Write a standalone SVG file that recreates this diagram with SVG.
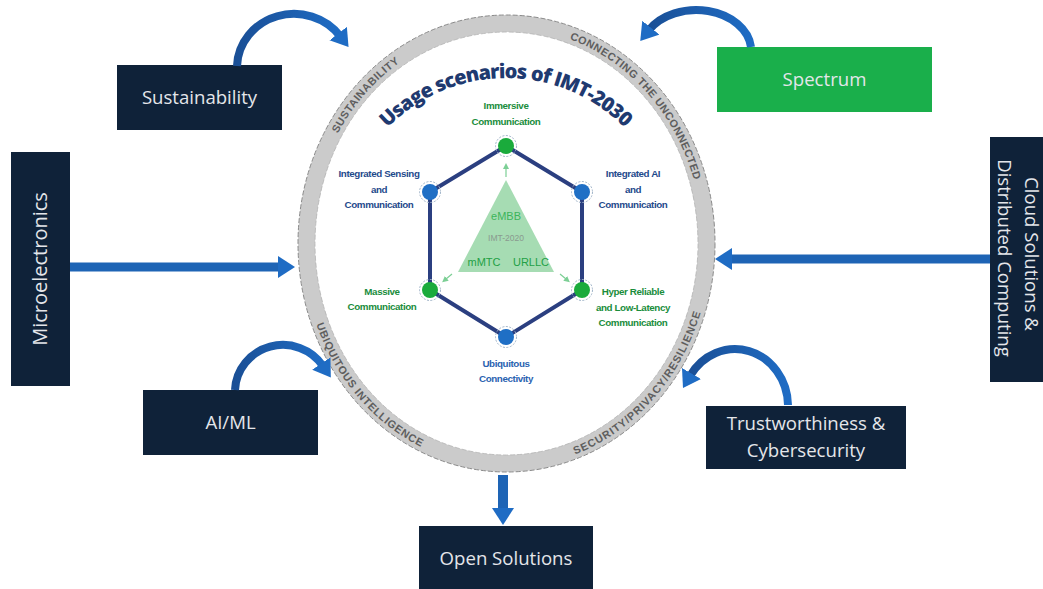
<svg xmlns="http://www.w3.org/2000/svg" width="1043" height="589" viewBox="0 0 1043 589">
<style>
.box{fill:#0f2239}
.bt{font-family:"Open Sans","Liberation Sans",sans-serif;font-size:18.6px;fill:#e4e6ea;text-anchor:middle}
.ring{font-family:"Liberation Sans",sans-serif;font-weight:bold;font-size:10.8px;fill:#5e5e5e}
.lbl{font-family:"Liberation Sans",sans-serif;font-weight:bold;font-size:9.8px;text-anchor:middle;letter-spacing:-0.4px}
.g{fill:#1a8d3c}
.b{fill:#1f4a8c}
.conn{stroke:#1e64b5;fill:none}
.curve{stroke:url(#cg);stroke-width:8;fill:none}
.hex{stroke:#2b3f80;stroke-width:4;fill:none;stroke-linejoin:round}
.ng{fill:#1aab3c}
.nb{fill:#1f6fc5}
.halo{fill:none;stroke:#9fb3c8;stroke-width:1;stroke-dasharray:2 1.5}
</style>
<defs>
<linearGradient id="cg" x1="0" y1="0" x2="1" y2="0">
<stop offset="0" stop-color="#1a4f96"/>
<stop offset="1" stop-color="#1f6cc4"/>
</linearGradient>
<marker id="ah" markerUnits="userSpaceOnUse" markerWidth="24" markerHeight="24" refX="3" refY="11" orient="auto">
<path d="M0,0 L17,11 L0,22 z" fill="#1f6cc4"/>
</marker>
<marker id="sa" markerUnits="userSpaceOnUse" markerWidth="8" markerHeight="8" refX="1" refY="3" orient="auto">
<path d="M0,0 L6,3 L0,6 z" fill="#7ccf95"/>
</marker>
<path id="topRing" d="M310.5,243.5 A196,216 0 0 1 702.5,243.5"/>
<path id="botRing" d="M302.5,243.5 A204,224 0 0 0 710.5,243.5"/>
<path id="title" d="M340,244 A166,166 0 0 1 672,244"/>
</defs>

<rect width="1043" height="589" fill="#ffffff"/>

<g id="ring">
<ellipse cx="506.5" cy="243.5" rx="200" ry="220" fill="#ffffff" stroke="#cbcbcb" stroke-width="17"/>
<ellipse cx="506.5" cy="243.5" rx="208.5" ry="228.5" fill="none" stroke="#8a8a8a" stroke-width="1" stroke-dasharray="5 2"/>
<ellipse cx="506.5" cy="243.5" rx="191.5" ry="211.5" fill="none" stroke="#b5b5b5" stroke-width="0.8" stroke-dasharray="5 2"/>
<text class="ring"><textPath href="#topRing" startOffset="25%" text-anchor="middle" textLength="95">SUSTAINABILITY</textPath></text>
<text class="ring"><textPath href="#topRing" startOffset="75%" text-anchor="middle" textLength="195">CONNECTING THE UNCONNECTED</textPath></text>
<text class="ring"><textPath href="#botRing" startOffset="24.5%" text-anchor="middle" textLength="165">UBIQUITOUS INTELLIGENCE</textPath></text>
<text class="ring"><textPath href="#botRing" startOffset="75%" text-anchor="middle" textLength="196">SECURITY/PRIVACY/RESILIENCE</textPath></text>
<text font-family="'Open Sans','Liberation Sans',sans-serif" font-weight="800" font-size="20" fill="#1f3a70"><textPath href="#title" startOffset="50%" text-anchor="middle" textLength="264">Usage scenarios of IMT-2030</textPath></text>
</g>

<g id="hexagon">
<path class="hex" d="M506,146 L430,192 L430,290 L506,337 L582,290 L582,192 Z"/>
</g>

<g id="imt2020">
<path d="M506,180 L458,272 L554,272 Z" fill="#a6dcb3"/>
<text x="506" y="220" font-family="'Liberation Sans',sans-serif" font-size="11" fill="#3cb45a" text-anchor="middle">eMBB</text>
<text x="506" y="241" font-family="'Liberation Sans',sans-serif" font-size="8.5" fill="#8a9a8f" text-anchor="middle">IMT-2020</text>
<text x="484" y="266" font-family="'Liberation Sans',sans-serif" font-size="11" fill="#22a045" text-anchor="middle">mMTC</text>
<text x="531" y="266" font-family="'Liberation Sans',sans-serif" font-size="11" fill="#22a045" text-anchor="middle">URLLC</text>
<path d="M506,177 L506,168" stroke="#7ccf95" stroke-width="1.2" marker-end="url(#sa)"/>
<path d="M452,274 L446,279" stroke="#7ccf95" stroke-width="1.2" marker-end="url(#sa)"/>
<path d="M560,274 L566,279" stroke="#7ccf95" stroke-width="1.2" marker-end="url(#sa)"/>
</g>

<g id="n-immersive">
<circle cx="506" cy="146" r="10.5" class="halo"/>
<circle cx="506" cy="146" r="8" class="ng"/>
<text class="lbl g" x="506" y="109">Immersive</text>
<text class="lbl g" x="506" y="125">Communication</text>
</g>
<g id="n-sensing">
<circle cx="430" cy="192" r="10.5" class="halo"/>
<circle cx="430" cy="192" r="8" class="nb"/>
<text class="lbl b" x="379" y="177">Integrated Sensing</text>
<text class="lbl b" x="379" y="193">and</text>
<text class="lbl b" x="379" y="208">Communication</text>
</g>
<g id="n-ai">
<circle cx="582" cy="192" r="10.5" class="halo"/>
<circle cx="582" cy="192" r="8" class="nb"/>
<text class="lbl b" x="633" y="177">Integrated AI</text>
<text class="lbl b" x="633" y="193">and</text>
<text class="lbl b" x="633" y="208">Communication</text>
</g>
<g id="n-massive">
<circle cx="430" cy="290" r="10.5" class="halo"/>
<circle cx="430" cy="290" r="8" class="ng"/>
<text class="lbl g" x="382" y="295">Massive</text>
<text class="lbl g" x="382" y="310">Communication</text>
</g>
<g id="n-hrllc">
<circle cx="582" cy="290" r="10.5" class="halo"/>
<circle cx="582" cy="290" r="8" class="ng"/>
<text class="lbl g" x="633" y="295">Hyper Reliable</text>
<text class="lbl g" x="633" y="311">and Low-Latency</text>
<text class="lbl g" x="633" y="326">Communication</text>
</g>
<g id="n-ubiq">
<circle cx="506" cy="337" r="10.5" class="halo"/>
<circle cx="506" cy="337" r="8" class="nb"/>
<text class="lbl" fill="#2a62b0" x="506" y="367">Ubiquitous</text>
<text class="lbl" fill="#2a62b0" x="506" y="382">Connectivity</text>
</g>

<g id="sustainability">
<rect class="box" x="117" y="65" width="165" height="65"/>
<text class="bt" x="199.5" y="104">Sustainability</text>
</g>
<g id="spectrum">
<rect x="717" y="47" width="215" height="65" fill="#1aaf4b"/>
<text class="bt" x="824.5" y="86">Spectrum</text>
</g>
<g id="microelectronics">
<rect class="box" x="11" y="152" width="59" height="234"/>
<text class="bt" style="font-size:20px" transform="translate(47,269) rotate(-90)">Microelectronics</text>
</g>
<g id="cloud">
<rect class="box" x="990" y="137" width="53" height="245"/>
<text class="bt" transform="translate(1025,254) rotate(90)">Cloud Solutions &amp;</text>
<text class="bt" transform="translate(998,258) rotate(90)">Distributed Computing</text>
</g>
<g id="aiml">
<rect class="box" x="143" y="390" width="175" height="65"/>
<text class="bt" x="230.5" y="429">AI/ML</text>
</g>
<g id="trust">
<rect class="box" x="706" y="406" width="200" height="63"/>
<text class="bt" x="806" y="430">Trustworthiness &amp;</text>
<text class="bt" x="806" y="457">Cybersecurity</text>
</g>
<g id="open">
<rect class="box" x="419" y="526" width="174" height="63"/>
<text class="bt" x="506" y="565">Open Solutions</text>
</g>

<g id="connectors">
<path class="conn" d="M70,267 L281,267" stroke-width="9" marker-end="url(#ah)"/>
<path class="conn" d="M990,259 L729,259" stroke-width="9" marker-end="url(#ah)"/>
<path class="conn" d="M503,475 L503,511" stroke-width="10" marker-end="url(#ah)"/>
<path class="curve" d="M237,66 A57,54 0 0 1 340,36" marker-end="url(#ah)"/>
<path class="curve" d="M751,47 A55,41 0 0 0 649,30" marker-end="url(#ah)"/>
<path class="curve" d="M235,390 A48,47 0 0 1 323,366" marker-end="url(#ah)"/>
<path class="curve" d="M788,405 A53,57 0 0 0 690,376" marker-end="url(#ah)"/>
</g>
</svg>
